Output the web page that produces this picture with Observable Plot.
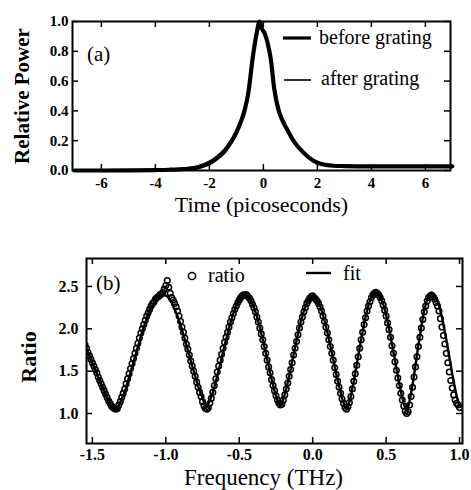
<!DOCTYPE html>
<html><head><meta charset="utf-8">
<script src="https://cdn.jsdelivr.net/npm/d3@7"></script>
<script src="https://cdn.jsdelivr.net/npm/@observablehq/plot@0.6"></script>
<style>
body{margin:0;background:#fff;}
#chart{width:471px;}
#chart svg{display:block;}
</style></head><body><div id="chart"></div>
<script>
// ---------- Panel (a) data ----------
const timePs = [-7,-6,-5,-4,-3.5,-3,-2.5,-2.25,-2.0,-1.7,-1.43,-1.2,-1.0,-0.85,-0.7,-0.55,-0.4,-0.25,-0.14,-0.05,0.05,0.15,0.28,0.4,0.57,0.75,0.91,1.15,1.43,1.7,2.0,2.3,2.6,3.0,4.0,5.0,6.0,7.0];
const powerBefore = [0,0,0.001,0.003,0.005,0.009,0.018,0.03,0.048,0.085,0.13,0.19,0.255,0.32,0.40,0.53,0.75,0.92,1.0,0.95,0.92,0.86,0.74,0.55,0.40,0.32,0.265,0.19,0.13,0.085,0.052,0.038,0.032,0.03,0.028,0.028,0.028,0.028];
const powerAfter = [0,0,0.002,0.005,0.008,0.014,0.027,0.042,0.062,0.10,0.148,0.205,0.27,0.33,0.41,0.54,0.75,0.92,1.0,0.95,0.91,0.85,0.73,0.55,0.40,0.32,0.26,0.185,0.125,0.082,0.05,0.037,0.031,0.029,0.027,0.027,0.027,0.027];
const timeTicks = [-6,-4,-2,0,2,4,6];
const powerTicks = [0,0.2,0.4,0.6,0.8,1.0];

// ---------- Panel (b) data ----------
const freqTHz = [
-1.55,-1.54,-1.53,-1.52,-1.51,-1.50,-1.49,-1.48,-1.47,-1.46,
-1.45,-1.44,-1.43,-1.42,-1.41,-1.40,-1.39,-1.38,-1.37,-1.36,
-1.35,-1.34,-1.33,-1.32,-1.31,-1.30,-1.29,-1.28,-1.27,-1.26,
-1.25,-1.24,-1.23,-1.22,-1.21,-1.20,-1.19,-1.18,-1.17,-1.16,
-1.15,-1.14,-1.13,-1.12,-1.11,-1.10,-1.09,-1.08,-1.07,-1.06,
-1.05,-1.04,-1.03,-1.02,-1.01,-1.00,-0.99,-0.98,-0.97,-0.96,
-0.95,-0.94,-0.93,-0.92,-0.91,-0.90,-0.89,-0.88,-0.87,-0.86,
-0.85,-0.84,-0.83,-0.82,-0.81,-0.80,-0.79,-0.78,-0.77,-0.76,
-0.75,-0.74,-0.73,-0.72,-0.71,-0.70,-0.69,-0.68,-0.67,-0.66,
-0.65,-0.64,-0.63,-0.62,-0.61,-0.60,-0.59,-0.58,-0.57,-0.56,
-0.55,-0.54,-0.53,-0.52,-0.51,-0.50,-0.49,-0.48,-0.47,-0.46,
-0.45,-0.44,-0.43,-0.42,-0.41,-0.40,-0.39,-0.38,-0.37,-0.36,
-0.35,-0.34,-0.33,-0.32,-0.31,-0.30,-0.29,-0.28,-0.27,-0.26,
-0.25,-0.24,-0.23,-0.22,-0.21,-0.20,-0.19,-0.18,-0.17,-0.16,
-0.15,-0.14,-0.13,-0.12,-0.11,-0.10,-0.09,-0.08,-0.07,-0.06,
-0.05,-0.04,-0.03,-0.02,-0.01,0.00,0.01,0.02,0.03,0.04,
0.05,0.06,0.07,0.08,0.09,0.10,0.11,0.12,0.13,0.14,
0.15,0.16,0.17,0.18,0.19,0.20,0.21,0.22,0.23,0.24,
0.25,0.26,0.27,0.28,0.29,0.30,0.31,0.32,0.33,0.34,
0.35,0.36,0.37,0.38,0.39,0.40,0.41,0.42,0.43,0.44,
0.45,0.46,0.47,0.48,0.49,0.50,0.51,0.52,0.53,0.54,
0.55,0.56,0.57,0.58,0.59,0.60,0.61,0.62,0.63,0.64,
0.65,0.66,0.67,0.68,0.69,0.70,0.71,0.72,0.73,0.74,
0.75,0.76,0.77,0.78,0.79,0.80,0.81,0.82,0.83,0.84,
0.85,0.86,0.87,0.88,0.89,0.90,0.91,0.92,0.93,0.94,
0.95,0.96,0.97,0.98,0.99,1.00];
const ratioFit = [
1.80,1.76,1.72,1.68,1.63,1.59,1.55,1.51,1.47,1.43,
1.38,1.34,1.30,1.26,1.22,1.18,1.14,1.11,1.08,1.07,
1.06,1.05,1.06,1.09,1.13,1.17,1.21,1.26,1.31,1.37,
1.43,1.49,1.55,1.61,1.67,1.73,1.79,1.85,1.91,1.97,
2.02,2.07,2.12,2.17,2.21,2.25,2.28,2.31,2.34,2.36,
2.38,2.39,2.40,2.40,2.40,2.39,2.38,2.36,2.33,2.31,
2.27,2.23,2.19,2.15,2.10,2.05,1.99,1.93,1.87,1.81,
1.75,1.69,1.62,1.56,1.50,1.44,1.38,1.32,1.27,1.23,
1.18,1.14,1.12,1.10,1.12,1.15,1.20,1.25,1.31,1.38,
1.44,1.51,1.58,1.66,1.73,1.80,1.87,1.94,2.01,2.07,
2.13,2.18,2.23,2.27,2.31,2.34,2.37,2.38,2.40,2.40,
2.39,2.38,2.36,2.33,2.30,2.25,2.20,2.15,2.08,2.02,
1.95,1.87,1.80,1.72,1.64,1.56,1.48,1.41,1.34,1.27,
1.21,1.16,1.12,1.10,1.12,1.17,1.23,1.29,1.37,1.44,
1.52,1.61,1.69,1.78,1.86,1.94,2.02,2.09,2.15,2.21,
2.26,2.30,2.34,2.36,2.37,2.38,2.37,2.36,2.34,2.31,
2.27,2.22,2.16,2.10,2.03,1.96,1.88,1.80,1.72,1.64,
1.55,1.47,1.39,1.32,1.25,1.18,1.13,1.08,1.06,1.09,
1.14,1.21,1.30,1.38,1.48,1.58,1.68,1.78,1.87,1.97,
2.06,2.14,2.21,2.28,2.33,2.37,2.40,2.42,2.43,2.42,
2.41,2.38,2.34,2.29,2.23,2.16,2.08,2.00,1.91,1.82,
1.72,1.63,1.53,1.44,1.35,1.26,1.19,1.12,1.07,1.04,
1.08,1.15,1.24,1.34,1.45,1.57,1.69,1.81,1.92,2.03,
2.13,2.22,2.29,2.35,2.39,2.42,2.43,2.42,2.40,2.37,
2.33,2.28,2.21,2.14,2.05,1.96,1.87,1.77,1.67,1.57,
1.47,1.38,1.29,1.21,1.14,1.08];
const ratioMeasured = [
1.81,1.77,1.72,1.68,1.64,1.60,1.56,1.52,1.48,1.43,
1.39,1.35,1.31,1.27,1.23,1.19,1.15,1.12,1.09,1.07,
1.06,1.05,1.06,1.10,1.14,1.19,1.24,1.29,1.35,1.41,
1.47,1.53,1.59,1.65,1.71,1.77,1.83,1.89,1.95,2.00,
2.05,2.10,2.15,2.19,2.23,2.27,2.30,2.32,2.35,2.37,
2.38,2.40,2.41,2.43,2.47,2.51,2.57,2.49,2.42,2.37,
2.34,2.30,2.26,2.21,2.15,2.09,2.02,1.96,1.89,1.82,
1.76,1.69,1.62,1.56,1.50,1.44,1.37,1.31,1.25,1.20,
1.14,1.09,1.06,1.05,1.07,1.12,1.18,1.25,1.33,1.41,
1.49,1.56,1.63,1.70,1.77,1.84,1.90,1.96,2.02,2.08,
2.13,2.18,2.23,2.27,2.31,2.34,2.37,2.39,2.40,2.40,
2.40,2.38,2.36,2.33,2.29,2.25,2.20,2.14,2.08,2.01,
1.94,1.87,1.79,1.71,1.63,1.55,1.48,1.40,1.33,1.27,
1.21,1.16,1.12,1.10,1.11,1.16,1.22,1.29,1.36,1.44,
1.52,1.60,1.69,1.77,1.85,1.93,2.01,2.08,2.14,2.20,
2.25,2.30,2.33,2.36,2.38,2.39,2.37,2.35,2.33,2.30,
2.26,2.21,2.15,2.09,2.02,1.95,1.87,1.79,1.71,1.63,
1.54,1.46,1.38,1.31,1.24,1.17,1.12,1.07,1.05,1.08,
1.13,1.20,1.29,1.38,1.47,1.57,1.67,1.77,1.87,1.96,
2.05,2.13,2.21,2.27,2.32,2.37,2.40,2.42,2.43,2.42,
2.40,2.37,2.33,2.28,2.22,2.15,2.07,1.99,1.90,1.80,
1.71,1.61,1.51,1.42,1.33,1.24,1.16,1.09,1.03,1.00,
1.02,1.10,1.20,1.31,1.43,1.55,1.67,1.79,1.90,2.01,
2.11,2.20,2.27,2.33,2.37,2.39,2.39,2.38,2.35,2.31,
2.27,2.21,2.12,2.02,1.92,1.82,1.71,1.60,1.49,1.39,
1.30,1.22,1.16,1.12,1.10,1.07];
const freqTicks = [-1.5,-1.0,-0.5,0,0.5,1.0];
const ratioTicks = [1.0,1.5,2.0,2.5];

// ---------- Text ----------
const legendA = ["before grating","after grating"];
const legendB = ["ratio","fit"];
const panelLabels = ["(a)","(b)"];
const axisTitles = {timeX: "Time (picoseconds)", powerY: "Relative Power", freqX: "Frequency (THz)", ratioY: "Ratio"};

const serif = "'Liberation Serif','DejaVu Serif',serif";
const W = 471;
const pulse = timePs.map((t,i) => ({t, before: powerBefore[i], after: powerAfter[i]}));
const ratio = freqTHz.map((f,i) => ({f, fit: ratioFit[i], meas: ratioMeasured[i]}));

function inwardTicks(xt, yt, iw, ih) {
  const sw = 1.5, L = 6;
  return [
    Plot.tickX(xt, {x: d => d, insetTop: ih - L, strokeWidth: sw}),
    Plot.tickX(xt, {x: d => d, insetBottom: ih - L, strokeWidth: sw}),
    Plot.tickY(yt, {y: d => d, insetRight: iw - L, strokeWidth: sw}),
    Plot.tickY(yt, {y: d => d, insetLeft: iw - L, strokeWidth: sw})
  ];
}

// ---------- Panel (a) ----------
const A = {h: 228, ml: 72, mr: 21, mt: 21, mb: 58};
const iwA = W - A.ml - A.mr, ihA = A.h - A.mt - A.mb;
const plotA = Plot.plot({
  width: W, height: A.h,
  marginLeft: A.ml, marginRight: A.mr, marginTop: A.mt, marginBottom: A.mb,
  style: {fontFamily: serif, background: "white", color: "black", overflow: "visible"},
  x: {domain: [-7.07, 6.93]},
  y: {domain: [0, 1]},
  marks: [
    ...inwardTicks(timeTicks, powerTicks, iwA, ihA),
    Plot.axisX({ticks: timeTicks, tickSize: 0, tickPadding: 7, tickFormat: d => String(d), fontSize: 15, fontWeight: "bold", label: null}),
    Plot.axisY({ticks: powerTicks, tickSize: 0, tickPadding: 4, tickFormat: d => d.toFixed(1), fontSize: 15, fontWeight: "bold", label: null}),
    Plot.line(pulse, {x: "t", y: "before", stroke: "black", strokeWidth: 4.2, curve: "monotone-x"}),
    Plot.line(pulse, {x: "t", y: "after", stroke: "black", strokeWidth: 1.6, curve: "monotone-x"}),
    Plot.frame({strokeWidth: 2}),
    Plot.text([axisTitles.timeX], {frameAnchor: "bottom", textAnchor: "middle", lineAnchor: "middle", dy: 34, fontSize: 22}),
    Plot.text([axisTitles.powerY], {frameAnchor: "left", textAnchor: "middle", lineAnchor: "middle", dx: -50, rotate: -90, fontSize: 21, fontWeight: "bold"})
  ]
});

// ---------- Panel (b) ----------
const B = {h: 262, ml: 86, mr: 9, mt: 30, mb: 47};
const iwB = W - B.ml - B.mr, ihB = B.h - B.mt - B.mb;
const plotB = Plot.plot({
  width: W, height: B.h,
  marginLeft: B.ml, marginRight: B.mr, marginTop: B.mt, marginBottom: B.mb,
  style: {fontFamily: serif, background: "white", color: "black", overflow: "visible"},
  x: {domain: [-1.54, 1.02]},
  y: {domain: [0.646, 2.83]},
  marks: [
    ...inwardTicks(freqTicks, ratioTicks, iwB, ihB),
    Plot.axisX({ticks: freqTicks, tickSize: 0, tickPadding: 5, tickFormat: d => d.toFixed(1), fontSize: 16, fontWeight: "bold", label: null}),
    Plot.axisY({ticks: ratioTicks, tickSize: 0, tickPadding: 8, tickFormat: d => d.toFixed(1), fontSize: 16, fontWeight: "bold", label: null}),
    Plot.dot(ratio, {x: "f", y: "meas", r: 2.8, stroke: "black", strokeWidth: 1.5, fill: "none", clip: true}),
    Plot.line(ratio, {x: "f", y: "fit", stroke: "black", strokeWidth: 2.4, curve: "catmull-rom", clip: true}),
    Plot.frame({strokeWidth: 2}),
    Plot.text([axisTitles.freqX], {frameAnchor: "bottom", textAnchor: "middle", lineAnchor: "middle", dx: -11, dy: 34, fontSize: 23}),
    Plot.text([axisTitles.ratioY], {frameAnchor: "left", textAnchor: "middle", lineAnchor: "middle", dx: -58, dy: 6, rotate: -90, fontSize: 22, fontWeight: "bold"})
  ]
});

// ---------- Legends and panel labels ----------
function addText(svg, x, y, s, size) {
  svg.append("text").attr("x", x).attr("y", y).attr("font-family", serif)
    .attr("text-anchor", "start").attr("font-size", size).attr("fill", "black").text(s);
}
const sA = d3.select(plotA);
sA.append("line").attr("x1", 283).attr("x2", 311).attr("y1", 38).attr("y2", 38).attr("stroke", "black").attr("stroke-width", 3.2);
addText(sA, 319, 44, legendA[0], 20);
sA.append("line").attr("x1", 284).attr("x2", 311).attr("y1", 80).attr("y2", 80).attr("stroke", "black").attr("stroke-width", 1.6);
addText(sA, 321, 85, legendA[1], 20);
addText(sA, 87, 61, panelLabels[0], 21);

const sB = d3.select(plotB);
sB.append("circle").attr("cx", 192).attr("cy", 48).attr("r", 3.6).attr("fill", "none").attr("stroke", "black").attr("stroke-width", 1.5);
addText(sB, 208, 54, legendB[0], 20);
sB.append("line").attr("x1", 306).attr("x2", 331).attr("y1", 45).attr("y2", 45).attr("stroke", "black").attr("stroke-width", 2.4);
addText(sB, 343, 52, legendB[1], 20);
addText(sB, 96, 62, panelLabels[1], 21);

const chart = document.getElementById("chart");
chart.appendChild(plotA);
chart.appendChild(plotB);
</script>
</body></html>
